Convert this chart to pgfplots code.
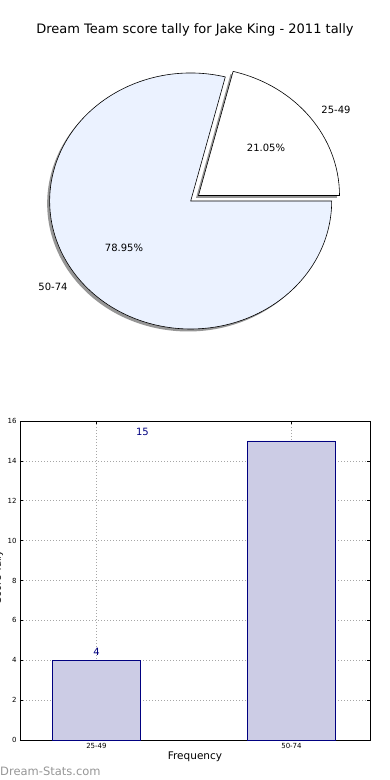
\documentclass[border=0pt]{standalone}
\usepackage{fontspec}
\setmainfont{DejaVu Sans}
\usepackage{pgfplots}
\pgfplotsset{compat=1.18}
\definecolor{barfill}{RGB}{204,204,229}
\definecolor{baredge}{RGB}{0,0,128}
\definecolor{pieblue}{RGB}{235,242,255}
\definecolor{shadowgray}{RGB}{150,150,150}
\begin{document}
\begin{tikzpicture}
\useasboundingbox (0pt,0pt) rectangle (390pt,780pt);
% ---------- pie ----------
\begin{axis}[at={(0pt,390pt)}, anchor=south west, scale only axis,
  width=390pt, height=390pt, xmin=0, xmax=390, ymin=0, ymax=390,
  axis lines=none, clip=false]
\pgfmathsetmacro{\va}{4}
\pgfmathsetmacro{\vb}{15}
\pgfmathsetmacro{\aa}{\va/(\va+\vb)*360}
% shadows
\fill[shadowgray] (axis cs:188.2,186.5) -- ++(\aa:141pt and 128pt)
   arc[start angle=\aa, end angle=360, x radius=141pt, y radius=128pt] -- cycle;
\fill[shadowgray] (axis cs:196.0,192.0) -- ++(0:141pt and 128pt)
   arc[start angle=0, end angle=\aa, x radius=141pt, y radius=128pt] -- cycle;
% wedges
\filldraw[fill=pieblue, draw=black, line width=0.6pt] (axis cs:190.7,189) -- ++(\aa:141pt and 128pt)
   arc[start angle=\aa, end angle=360, x radius=141pt, y radius=128pt] -- cycle;
\filldraw[fill=white, draw=black, line width=0.6pt] (axis cs:198.5,194.5) -- ++(0:141pt and 128pt)
   arc[start angle=0, end angle=\aa, x radius=141pt, y radius=128pt] -- cycle;
% labels
\node[font=\fontsize{13}{15}\selectfont] at (axis cs:195,360) {Dream Team score tally for Jake King - 2011 tally};
\node[font=\fontsize{10}{12}\selectfont] at (axis cs:266,242) {21.05\%};
\node[font=\fontsize{10}{12}\selectfont] at (axis cs:336,280) {25-49};
\node[font=\fontsize{10}{12}\selectfont] at (axis cs:124,142) {78.95\%};
\node[font=\fontsize{10}{12}\selectfont] at (axis cs:53,103) {50-74};
\end{axis}
% ---------- bars ----------
\begin{axis}[at={(20pt,40pt)}, anchor=south west, scale only axis,
  width=350pt, height=319pt,
  xmin=-0.392, xmax=1.4026, ymin=0, ymax=16,
  xtick={0,1}, xticklabels={25-49,50-74},
  ytick={0,2,4,6,8,10,12,14,16},
  tick pos=both, tick align=inside,
  major tick length=3pt,
  tick style={black, line width=0.5pt},
  grid=major, major grid style={dash pattern=on 1pt off 2pt, gray!70, line width=0.7pt},
  axis line style={black, line width=0.8pt},
  ticklabel style={font=\fontsize{7}{8}\selectfont},
  /pgf/number format/assume math mode=true,
  xlabel={Frequency}, xlabel style={font=\fontsize{10.5}{12}\selectfont, yshift=4pt},
  clip=false]
\addplot[ybar, bar width=0.45, bar shift=0pt, fill=barfill, draw=baredge, line width=0.6pt]
  coordinates {(0,4) (1,15)};
\node[text=baredge, font=\fontsize{10}{12}\selectfont] at (axis cs:0,4.4) {4};
\node[text=baredge, font=\fontsize{10}{12}\selectfont] at (axis cs:0.236,15.45) {15};
\end{axis}
\node[rotate=90, font=\fontsize{10}{12}\selectfont, text=black] at (-2pt,203pt) {Score Tally};
\node[anchor=west, font=\fontsize{11.5}{13}\selectfont, text=shadowgray, inner sep=0pt] at (0pt,9pt) {Dream-Stats.com};
\end{tikzpicture}
\end{document}
